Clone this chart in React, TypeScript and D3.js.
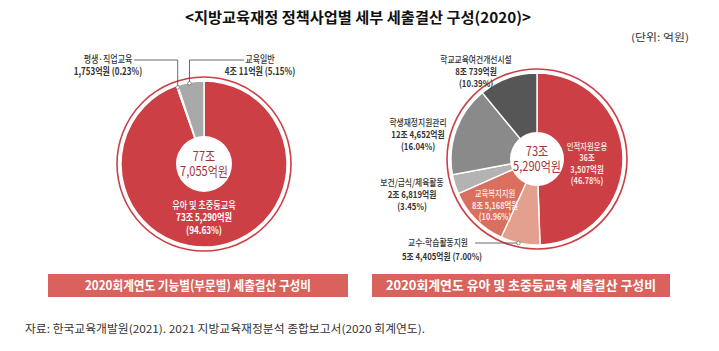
import React from "react";
import * as d3 from "d3";

const leftNames = ["유아 및 초중등교육", "평생·직업교육", "교육일반"];
const leftValues = [735290, 1753, 40011];
const leftAmounts = ["73조 5,290억원", "1,753억원", "4조 11억원"];
const leftShares = ["(94.63%)", "(0.23%)", "(5.15%)"];
const leftColors = ["#cb3f45", "#e6e6e6", "#a9a9a9"];

const rightNames = ["인적자원운용", "교수-학습활동지원", "교육복지지원", "보건/급식/체육활동", "학생재정지원관리", "학교교육여건개선시설"];
const rightValues = [363507, 54405, 85168, 26819, 124652, 80739];
const rightAmounts = ["36조|3,507억원", "5조 4,405억원", "8조 5,168억원", "2조 6,819억원", "12조 4,652억원", "8조 739억원"];
const rightShares = ["(46.78%)", "(7.00%)", "(10.96%)", "(3.45%)", "(16.04%)", "(10.39%)"];
const rightColors = ["#cb3f45", "#e3a08f", "#d9705f", "#b3b3b3", "#8a8a8a", "#565656"];

const titleText = "<지방교육재정 정책사업별 세부 세출결산 구성(2020)>";
const unitText = "(단위: 억원)";
const sourceText = "자료: 한국교육개발원(2021). 2021 지방교육재정분석 종합보고서(2020 회계연도).";
const leftCaption = "2020회계연도 기능별(부문별) 세출결산 구성비";
const rightCaption = "2020회계연도 유아 및 초중등교육 세출결산 구성비";
const leftTotal = ["77조", "7,055억원"];
const rightTotal = ["73조", "5,290억원"];

const FONT = "'Noto Sans CJK KR', 'Noto Sans', sans-serif";
const RED = "#cb3f45";
const DARKRED = "#a8343a";

type Slice = d3.PieArcDatum<number>;

function Donut({ cx, cy, r, hole, values, colors, total }: any) {
  const pie = d3.pie<number>().sort(null).value((d) => d);
  const arcs = pie(values);
  const arc = d3.arc<Slice>().innerRadius(0).outerRadius(r);
  return (
    <g transform={`translate(${cx},${cy})`}>
      <circle r={r + 4} fill="none" stroke={RED} strokeWidth={1.6} />
      {arcs.map((a, i) => (
        <path key={i} d={arc(a) || ""} fill={colors[i]} stroke="#fff" strokeWidth={1.4} />
      ))}
      <circle r={hole} fill="#fff" />
      <g transform="scale(0.85,1)">
        <text textAnchor="middle" fontFamily={FONT} fontSize={13} fill={DARKRED} y={-3}>
          {total[0]}
        </text>
        <text textAnchor="middle" fontFamily={FONT} fontSize={13} fill={DARKRED} y={12}>
          {total[1]}
        </text>
      </g>
    </g>
  );
}

function Lines({ x, y, lines, size = 9.5, fill = "#333", gap = 12, sx = 0.82, weights }: any) {
  return (
    <g transform={`translate(${x},${y}) scale(${sx},1)`}>
      {lines.map((l: string, i: number) => (
        <text key={i} x={0} y={i * gap} textAnchor="middle" fontFamily={FONT} fontSize={size}
          fill={fill} fontWeight={weights ? weights[i] : 500}>
          {l}
        </text>
      ))}
    </g>
  );
}

export default function App() {
  const W = 719, H = 351;
  const L = { cx: 204, cy: 164, r: 83 };
  const R = { cx: 537, cy: 159, r: 86 };
  const pie = d3.pie<number>().sort(null).value((d) => d);
  const la = pie(leftValues);
  const ra = pie(rightValues);
  const edge = (angle: number, rad: number, c: any) => [c.cx + rad * Math.sin(angle), c.cy - rad * Math.cos(angle)];
  const pA = edge((la[1].startAngle + la[1].endAngle) / 2, L.r - 2, L);
  const pB = edge(la[2].startAngle + (la[2].endAngle - la[2].startAngle) * 0.45, L.r - 1, L);
  const pC = edge(ra[1].startAngle + (ra[1].endAngle - ra[1].startAngle) * 0.55, R.r - 1, R);
  const ra0 = rightAmounts[0].split("|");

  return (
    <svg width={W} height={H} style={{ position: "absolute", left: 0, top: 0, background: "#fff" }}>
      <rect width={W} height={H} fill="#fff" />
      <text x={358} y={23} textAnchor="middle" fontFamily={FONT} fontSize={15} fontWeight={700} fill="#111"
        textLength={346} lengthAdjust="spacingAndGlyphs">{titleText}</text>
      <text x={689} y={41} textAnchor="end" fontFamily={FONT} fontSize={10} fill="#333"
        textLength={58} lengthAdjust="spacingAndGlyphs">{unitText}</text>

      <Donut cx={L.cx} cy={L.cy} r={L.r} hole={28} values={leftValues} colors={leftColors} total={leftTotal} />
      <Donut cx={R.cx} cy={R.cy} r={R.r} hole={27} values={rightValues} colors={rightColors} total={rightTotal} />

      {/* left connectors */}
      <polyline points={`134,60 ${pA[0]},60 ${pA[0]},${pA[1]}`} fill="none" stroke="#444" strokeWidth={0.8} />
      <circle cx={pA[0]} cy={pA[1]} r={1.8} fill="#fff" stroke="#666" strokeWidth={0.7} />
      <polyline points={`244,60 ${pB[0]},60 ${pB[0]},${pB[1]}`} fill="none" stroke="#444" strokeWidth={0.8} />
      <circle cx={pB[0]} cy={pB[1]} r={1.8} fill="#fff" stroke="#666" strokeWidth={0.7} />
      <Lines x={108} y={63} lines={[leftNames[1], `${leftAmounts[1]} ${leftShares[1]}`]} weights={[500, 700]} gap={12.5} size={10} sx={0.8} />
      <Lines x={260} y={63} lines={[leftNames[2], `${leftAmounts[2]} ${leftShares[2]}`]} weights={[500, 700]} gap={12.5} size={10} sx={0.8} />
      <Lines x={L.cx} y={L.cy + 45} lines={[leftNames[0], leftAmounts[0], leftShares[0]]} fill="#fff" weights={[500, 600, 600]} gap={12.5} size={10.2} sx={0.8} />

      {/* right labels */}
      <Lines x={476} y={63} lines={[rightNames[5], rightAmounts[5], rightShares[5]]} weights={[500, 700, 700]} />
      <Lines x={418} y={126} lines={[rightNames[4], rightAmounts[4], rightShares[4]]} weights={[500, 700, 700]} />
      <Lines x={412} y={186} lines={[rightNames[3], rightAmounts[3], rightShares[3]]} weights={[500, 700, 700]} />
      <Lines x={587} y={150} lines={[rightNames[0], ra0[0], ra0[1], rightShares[0]]} fill="#fde8e6" weights={[500, 600, 600, 600]} gap={11.4} size={9.2} sx={0.8} />
      <Lines x={495} y={197} lines={[rightNames[2], rightAmounts[2], rightShares[2]]} fill="#fde8e6" weights={[500, 600, 600]} gap={11.6} size={9.2} sx={0.8} />
      <polyline points={`475,243 ${pC[0]},243`} fill="none" stroke="#444" strokeWidth={0.8} />
      <circle cx={pC[0]} cy={243} r={1.8} fill="#fff" stroke="#666" strokeWidth={0.7} />
      <Lines x={438} y={246} lines={[rightNames[1]]} weights={[500]} />
      <Lines x={442} y={260} lines={[`${rightAmounts[1]} ${rightShares[1]}`]} weights={[700]} />

      {/* caption boxes */}
      <rect x={48} y={274} width={300} height={23} fill="#d9635c" />
      <text x={198} y={290} textAnchor="middle" fontFamily={FONT} fontSize={13} fontWeight={700} fill="#fff"
        textLength={226} lengthAdjust="spacingAndGlyphs">{leftCaption}</text>
      <rect x={372} y={274} width={298} height={23} fill="#d9635c" />
      <text x={521} y={290} textAnchor="middle" fontFamily={FONT} fontSize={13} fontWeight={700} fill="#fff"
        textLength={270} lengthAdjust="spacingAndGlyphs">{rightCaption}</text>

      <text x={25} y={333} fontFamily={FONT} fontSize={11} fill="#333" textLength={400} lengthAdjust="spacingAndGlyphs">{sourceText}</text>
    </svg>
  );
}
